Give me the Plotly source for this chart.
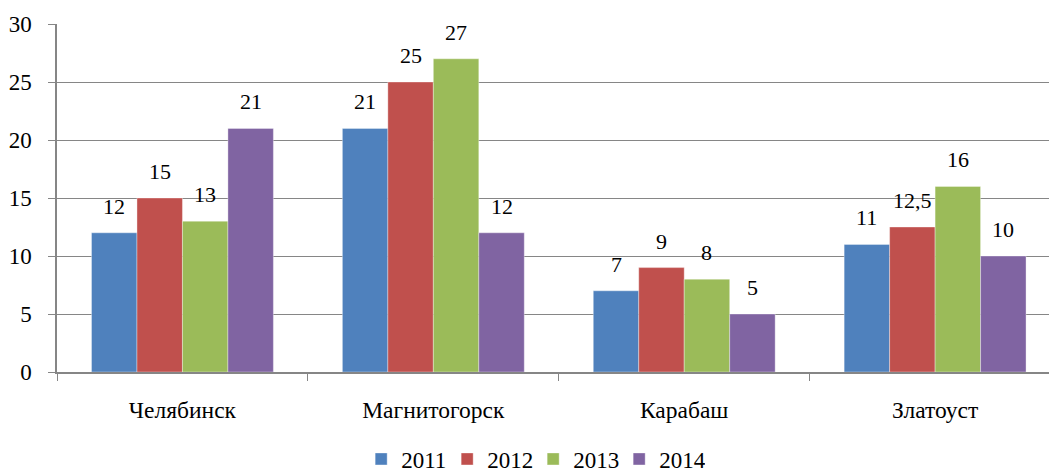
import plotly.graph_objects as go

cities = ["Челябинск", "Магнитогорск", "Карабаш", "Златоуст"]
years = ["2011", "2012", "2013", "2014"]
values = {
    "2011": [12, 21, 7, 11],
    "2012": [15, 25, 9, 12.5],
    "2013": [13, 27, 8, 16],
    "2014": [21, 12, 5, 10],
}
colors = ["#4F81BD", "#C0504D", "#9BBB59", "#8064A2"]
y_ticks = [0, 5, 10, 15, 20, 25, 30]

FONT = "Liberation Serif"
bargap = 0.275
barw = (1 - bargap) / len(years)

fig = go.Figure()
annotations = []
for i, yr in enumerate(years):
    fig.add_trace(go.Bar(
        name=yr, x=cities, y=values[yr],
        marker=dict(color=colors[i], line=dict(width=0.6, color="rgba(255,255,255,0.6)")),
    ))
    off = (i - (len(years) - 1) / 2) * barw
    for j, v in enumerate(values[yr]):
        txt = (f"{v:g}").replace(".", ",")
        annotations.append(dict(
            x=j + off, y=v, xref="x", yref="y", text=txt, showarrow=False,
            yanchor="bottom", xanchor="center", yshift=12,
            font=dict(family=FONT, size=22, color="#000"),
        ))

fig.update_layout(
    width=1049, height=475,
    margin=dict(l=57, r=0, t=24, b=103, autoexpand=False),
    barmode="group", bargap=bargap, bargroupgap=0,
    plot_bgcolor="white", paper_bgcolor="white",
    font=dict(family=FONT, size=22, color="#000"),
    annotations=annotations,
    showlegend=True,
    legend=dict(orientation="h", x=0.48, xanchor="center", xref="paper",
                y=-0.25, yanchor="middle", yref="paper",
                font=dict(family=FONT, size=23), itemwidth=30,
                entrywidth=41, traceorder="normal"),
    xaxis=dict(
        type="category", range=[-0.5, 3.454], tickson="boundaries", automargin=False,
        ticks="outside", ticklen=7, tickcolor="#868686",
        showline=True, linecolor="#868686", linewidth=2,
        showgrid=False, ticklabelstandoff=16,
        tickfont=dict(family=FONT, size=23.5),
    ),
    yaxis=dict(
        range=[0, 30], tickvals=y_ticks, automargin=False,
        ticks="outside", ticklen=7, tickcolor="#868686",
        showline=True, linecolor="#868686", linewidth=1.5,
        showgrid=True, gridcolor="#868686", gridwidth=1.2, zeroline=False,
        ticklabelstandoff=12, tickfont=dict(family=FONT, size=23),
    ),
)

fig.write_html(
    "out.html",
    config={"displayModeBar": False},
    post_script="document.body.style.margin='0';document.body.style.overflow='hidden';",
)
